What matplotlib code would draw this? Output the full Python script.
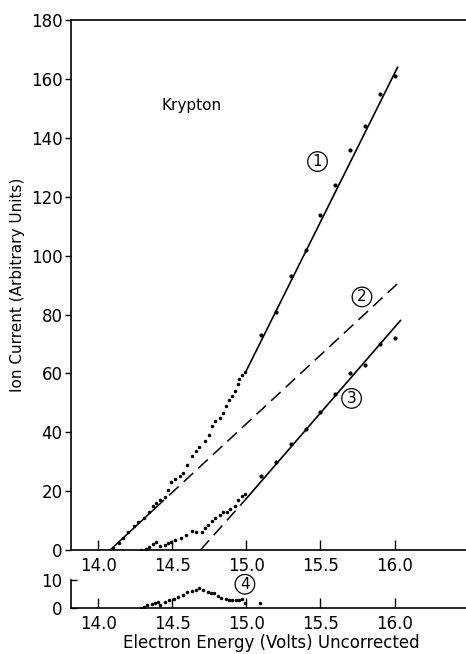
import numpy as np
import matplotlib.pyplot as plt

# curve 1: onset points (dotted) and fitted solid line above 15 V
onset1_x = [14.10, 14.14, 14.17, 14.20, 14.24, 14.27, 14.31, 14.34, 14.37, 14.39,
            14.42, 14.45, 14.47, 14.49, 14.52, 14.55, 14.57, 14.60, 14.63, 14.66,
            14.68, 14.72, 14.75, 14.77, 14.79, 14.82, 14.84, 14.86, 14.88, 14.90,
            14.92, 14.94, 14.95, 14.97, 14.99]
onset1_y = [0.7, 2.5, 4.0, 6.0, 8.0, 9.5, 11.0, 13.0, 15.0, 16.0,
            17.0, 18.0, 20.5, 23.0, 24.0, 25.0, 26.0, 29.0, 32.0, 33.5,
            35.0, 37.0, 39.0, 42.0, 44.0, 45.0, 46.5, 49.0, 51.0, 52.5,
            54.0, 56.5, 58.0, 59.5, 60.5]
pts1_x = [15.1, 15.2, 15.3, 15.4, 15.5, 15.6, 15.7, 15.8, 15.9, 16.0]
pts1_y = [73, 81, 93, 102, 114, 124, 136, 144, 155, 161]
line1_x = [15.0, 16.02]
line1_y = [61, 164]

# curve 2: extrapolation, solid where it runs through the data, dashed above
solid2_x = [14.08, 14.38]
solid2_y = [0, 14.0]
line2_x = [14.38, 16.02]
line2_y = [14.0, 90.5]

# curve 3
onset3_x = [14.29, 14.32, 14.34, 14.37, 14.39, 14.42, 14.45, 14.47, 14.49, 14.52,
            14.56, 14.59, 14.63, 14.66, 14.70, 14.72, 14.74, 14.77, 14.79, 14.82,
            14.84, 14.87, 14.89, 14.92, 14.94, 14.97, 14.99]
onset3_y = [0.0, 0.5, 1.0, 2.0, 2.7, 1.5, 1.7, 2.5, 2.7, 3.5,
            4.0, 5.0, 6.5, 6.0, 6.0, 7.5, 8.5, 10.0, 11.0, 12.0,
            13.0, 13.0, 14.0, 15.0, 17.0, 18.5, 19.0]
pts3_x = [15.1, 15.2, 15.3, 15.4, 15.5, 15.6, 15.7, 15.8, 15.9, 16.0]
pts3_y = [25, 30, 36, 41, 47, 53, 60, 63, 70, 72]
dash3_x = [14.69, 15.0]
dash3_y = [0, 17.5]
line3_x = [15.0, 16.04]
line3_y = [17.5, 78]

# curve 4 (difference), lower panel
d4_x = [14.29, 14.31, 14.33, 14.36, 14.38, 14.40, 14.42, 14.45, 14.48, 14.51,
        14.54, 14.57, 14.60, 14.63, 14.66, 14.68, 14.71, 14.74, 14.76, 14.78,
        14.81, 14.83, 14.86, 14.88, 14.90, 14.93, 14.95, 14.97, 14.99, 15.09]
d4_y = [0.0, 0.5, 1.0, 1.5, 1.8, 2.0, 1.0, 2.2, 2.8, 3.2,
        4.0, 4.5, 5.8, 6.2, 6.5, 7.0, 6.3, 5.8, 5.5, 5.2,
        4.2, 3.6, 3.2, 2.9, 2.8, 2.7, 2.8, 3.2, 1.8, 1.8]

xticks = [14.0, 14.5, 15.0, 15.5, 16.0, 16.5]
xticklabels = ['14.0', '14.5', '15.0', '15.5', '16.0', '']

plt.rcParams['font.family'] = ['DejaVu Sans']

fig = plt.figure(figsize=(4.66, 6.54), dpi=100)
ax = fig.add_axes([0.152, 0.159, 0.86, 0.81])
ax2 = fig.add_axes([0.152, 0.0703, 0.86, 0.0428])

xlim = (13.815, 16.52)
circ = dict(boxstyle='circle,pad=0.15', fc='white', ec='black', lw=0.9)

# main panel
ax.plot(onset1_x, onset1_y, 'o', ms=1.5, color='black')
ax.plot(pts1_x, pts1_y, 'o', ms=2.0, color='black')
ax.plot(line1_x, line1_y, '-', lw=1.2, color='black')
ax.plot(solid2_x, solid2_y, '-', lw=1.1, color='black')
ax.plot(line2_x, line2_y, '--', lw=1.1, color='black', dashes=(8.5, 4.5))
ax.plot(onset3_x, onset3_y, 'o', ms=1.5, color='black')
ax.plot(pts3_x, pts3_y, 'o', ms=2.0, color='black')
ax.plot(dash3_x, dash3_y, '--', lw=1.1, color='black', dashes=(8.5, 4.5))
ax.plot(line3_x, line3_y, '-', lw=1.2, color='black')

ax.text(14.63, 151, 'Krypton', fontsize=11, ha='center', va='center')
ax.text(15.48, 132, '1', fontsize=11, ha='center', va='center', bbox=circ)
ax.text(15.78, 86, '2', fontsize=11, ha='center', va='center', bbox=circ)
ax.text(15.71, 51.5, '3', fontsize=11, ha='center', va='center', bbox=circ)

ax.set_xlim(*xlim)
ax.set_ylim(0, 180)
ax.set_yticks(range(0, 181, 20))
ax.set_xticks(xticks)
ax.set_xticklabels(xticklabels)
ax.spines['right'].set_visible(False)
for s in ax.spines.values():
    s.set_linewidth(1.2)
ax.tick_params(axis='x', direction='in', length=7, width=1, labelsize=12, pad=5)
ax.tick_params(axis='y', direction='out', length=4, width=1, labelsize=12, pad=2)
ax.set_ylabel('Ion Current (Arbitrary Units)', fontsize=11, labelpad=4)

# lower panel
ax2.plot(d4_x, d4_y, 'o', ms=1.5, color='black')
ax2.text(14.99, 8.5, '4', fontsize=11, ha='center', va='center', bbox=circ)
ax2.set_xlim(*xlim)
ax2.set_ylim(0, 10)
ax2.set_yticks([0, 10])
ax2.set_xticks(xticks)
ax2.set_xticklabels(xticklabels)
ax2.spines['right'].set_visible(False)
ax2.spines['top'].set_visible(False)
for s in ax2.spines.values():
    s.set_linewidth(1.2)
ax2.tick_params(axis='x', direction='in', length=7, width=1, labelsize=12, pad=5)
ax2.tick_params(axis='y', direction='in', length=4, width=1, labelsize=12, pad=6)
ax2.set_xlabel('Electron Energy (Volts) Uncorrected', fontsize=12, labelpad=1)

fig.savefig('out.png', dpi=100)
